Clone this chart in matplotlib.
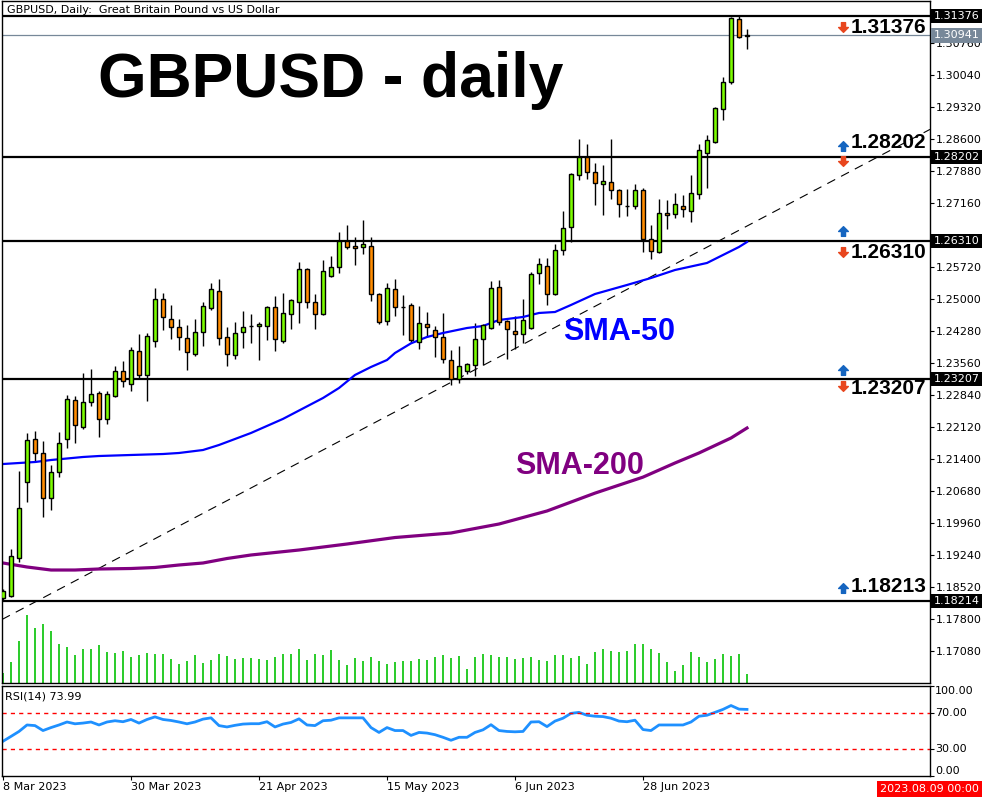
import matplotlib
matplotlib.use("Agg")
import matplotlib.pyplot as plt
from matplotlib.patches import Rectangle
from matplotlib.path import Path

# ---------------- data ----------------
opens = [1.18281, 1.18326, 1.19181, 1.20891, 1.21859, 1.21544, 1.20531, 1.21116, 1.21859, 1.22736,
         1.22129, 1.22691, 1.22894, 1.22309, 1.22826, 1.23389, 1.23096, 1.23839, 1.23299, 1.24061,
         1.25011, 1.24559, 1.24379, 1.24131, 1.23771, 1.24266, 1.24806, 1.25189, 1.24154, 1.23749,
         1.24266, 1.24401, 1.24401, 1.24401, 1.24829, 1.24061, 1.24671, 1.24941, 1.25684, 1.24941,
         1.24671, 1.25526, 1.25729, 1.26311, 1.26201, 1.26179, 1.26201, 1.25121, 1.24514, 1.25234,
         1.24829, 1.24874, 1.24041, 1.24446, 1.24311, 1.24154, 1.23636, 1.23209, 1.23389, 1.23524,
         1.24109, 1.24356, 1.25279, 1.24514, 1.24289, 1.24221, 1.24356, 1.25594, 1.25751, 1.25121,
         1.26111, 1.26629, 1.27799, 1.28201, 1.27866, 1.27596, 1.27641, 1.27461, 1.27101, 1.27101,
         1.27461, 1.26361, 1.26066, 1.26944, 1.26921, 1.27101, 1.26989, 1.27371, 1.28294, 1.28541,
         1.29284, 1.29891, 1.31309, 1.30920]
highs = [1.18484, 1.19384, 1.21139, 1.21994, 1.22039, 1.21814, 1.21274, 1.22016, 1.22849, 1.22826,
         1.23344, 1.23434, 1.22939, 1.22939, 1.23501, 1.23614, 1.23929, 1.24221, 1.24244, 1.25256,
         1.25144, 1.24874, 1.24559, 1.24424, 1.24559, 1.24941, 1.25369, 1.25459, 1.24379, 1.24491,
         1.24739, 1.24671, 1.24491, 1.24851, 1.25076, 1.25144, 1.25009, 1.25841, 1.25706, 1.25121,
         1.25886, 1.25976, 1.26516, 1.26674, 1.26404, 1.26786, 1.26404, 1.25144, 1.25369, 1.25459,
         1.25099, 1.24919, 1.24851, 1.24716, 1.24401, 1.24694, 1.23861, 1.23951, 1.23569, 1.24469,
         1.24446, 1.25414, 1.25436, 1.24536, 1.24626, 1.25009, 1.25616, 1.25931, 1.25931, 1.26246,
         1.26989, 1.27844, 1.28611, 1.28486, 1.28069, 1.28024, 1.28611, 1.27484, 1.27484, 1.27596,
         1.27506, 1.26674, 1.27259, 1.27236, 1.27394, 1.27349, 1.27799, 1.28496, 1.28699, 1.29329,
         1.30004, 1.31350, 1.31376, 1.31084]
lows = [1.18214, 1.18304, 1.19091, 1.20441, 1.21341, 1.20103, 1.20261, 1.21004, 1.21656, 1.21769,
        1.22084, 1.22601, 1.21911, 1.22196, 1.22804, 1.23029, 1.22939, 1.23231, 1.22714, 1.23929,
        1.24311, 1.24109, 1.23861, 1.23411, 1.23726, 1.23951, 1.24761, 1.23974, 1.23501, 1.23659,
        1.23906, 1.24019, 1.23636, 1.24086, 1.23839, 1.24019, 1.24334, 1.24469, 1.24806, 1.24334,
        1.24649, 1.25504, 1.25594, 1.26134, 1.25774, 1.26021, 1.24961, 1.24446, 1.24424, 1.24626,
        1.24199, 1.24019, 1.23884, 1.24154, 1.23704, 1.23569, 1.23074, 1.23119, 1.23321, 1.23276,
        1.23524, 1.24334, 1.24424, 1.23659, 1.23884, 1.24019, 1.24334, 1.25346, 1.24874, 1.25099,
        1.25999, 1.26291, 1.27686, 1.27709, 1.27124, 1.26899, 1.27259, 1.26854, 1.26876, 1.27034,
        1.26066, 1.25909, 1.26044, 1.26584, 1.26831, 1.26854, 1.26741, 1.27259, 1.27506, 1.28519,
        1.29036, 1.29846, 1.30881, 1.30634]
closes = [1.18439, 1.19226, 1.20306, 1.21836, 1.21544, 1.20531, 1.21116, 1.21769, 1.22759, 1.22174,
          1.22691, 1.22871, 1.22309, 1.22871, 1.23389, 1.23161, 1.23861, 1.23299, 1.24176, 1.25011,
          1.24604, 1.24379, 1.24154, 1.23816, 1.24266, 1.24851, 1.25234, 1.24131, 1.23771, 1.24244,
          1.24379, 1.24395, 1.24446, 1.24829, 1.24109, 1.24694, 1.24986, 1.25684, 1.24941, 1.24671,
          1.25639, 1.25729, 1.26311, 1.26179, 1.26156, 1.26246, 1.25121, 1.24491, 1.25256, 1.24829,
          1.24825, 1.24086, 1.24469, 1.24379, 1.24154, 1.23659, 1.23209, 1.23501, 1.23546, 1.24109,
          1.24424, 1.25256, 1.24491, 1.24334, 1.24221, 1.24536, 1.25571, 1.25796, 1.25121, 1.26111,
          1.26606, 1.27821, 1.28201, 1.27866, 1.27619, 1.27664, 1.27461, 1.27146, 1.27098, 1.27461,
          1.26361, 1.26089, 1.26944, 1.26899, 1.27146, 1.27034, 1.27394, 1.28361, 1.28586, 1.29306,
          1.29891, 1.31331, 1.30901, 1.30941]
volumes = [30, 63, 126, 203, 165, 176, 155, 117, 107, 84,
           101, 101, 113, 92, 89, 95, 77, 83, 89, 87,
           86, 71, 56, 65, 83, 59, 68, 87, 80, 71,
           74, 74, 71, 68, 77, 87, 87, 101, 68, 87,
           83, 98, 68, 53, 74, 65, 77, 65, 56, 62,
           65, 65, 71, 68, 77, 83, 74, 80, 41, 77,
           86, 83, 77, 77, 71, 74, 77, 68, 65, 83,
           83, 74, 80, 56, 92, 101, 95, 92, 95, 116,
           116, 101, 89, 62, 35, 53, 92, 77, 62, 71,
           86, 80, 86, 26]
rsi = [38.6, 44.0, 49.5, 56.7, 56.0, 50.5, 53.8, 56.7, 60.0, 58.0,
       58.8, 60.0, 56.7, 60.0, 61.4, 60.3, 62.8, 58.8, 62.8, 65.7,
       62.8, 61.7, 60.0, 58.0, 60.0, 63.2, 64.6, 56.0, 54.5, 56.3,
       57.7, 58.1, 58.1, 60.3, 54.5, 57.7, 59.5, 63.5, 56.7, 56.0,
       61.4, 62.0, 64.6, 64.6, 64.6, 64.6, 53.8, 48.4, 53.8, 50.5,
       50.5, 45.1, 48.4, 47.7, 45.9, 43.0, 39.7, 43.0, 43.0, 48.4,
       51.3, 57.0, 50.5, 49.5, 49.1, 49.5, 60.0, 60.3, 54.9, 61.0,
       64.2, 69.6, 70.7, 67.5, 66.4, 66.0, 64.2, 61.0, 60.3, 62.0,
       51.6, 50.5, 56.7, 56.7, 56.7, 56.7, 60.0, 66.4, 67.5, 70.7,
       74.0, 78.3, 74.3, 73.99]

sma50_idx = [0, 4, 6, 10, 12, 16, 20, 22, 25, 27, 29, 31, 35, 40, 42, 44, 46, 48, 49, 51,
             53, 55, 58, 60, 62, 65, 67, 69, 71, 74, 78, 81, 84, 88, 90, 92, 93]
sma50_val = [1.21296, 1.21341, 1.21386, 1.21454, 1.21476, 1.21499, 1.21521, 1.21544, 1.21611,
             1.21724, 1.21859, 1.21994, 1.22311, 1.22781, 1.23006, 1.23299, 1.23479, 1.23636,
             1.23794, 1.24011, 1.24154, 1.24244, 1.24356, 1.24401, 1.24536, 1.24604, 1.24694,
             1.24716, 1.24874, 1.25121, 1.25324, 1.25481, 1.25661, 1.25819, 1.25999, 1.26179,
             1.26291]
sma200_idx = [0, 3, 6, 9, 12, 16, 19, 22, 25, 28, 31, 37, 43, 49, 56, 62, 68, 74, 80, 84, 87, 91, 93]
sma200_val = [1.19069, 1.18979, 1.18911, 1.18911, 1.18934, 1.18945, 1.18968, 1.19024, 1.19069,
              1.19170, 1.19249, 1.19361, 1.19496, 1.19642, 1.19744, 1.19946, 1.20239, 1.20641,
              1.21001, 1.21319, 1.21544, 1.21881, 1.22106]

levels = [1.31376, 1.28202, 1.26310, 1.23207, 1.18214]
bid_price = 1.30941
trend_pts = [(0, 1.1781), (93, 1.2665)]
price_ticks = [1.17080, 1.17800, 1.18520, 1.19240, 1.19960, 1.20680, 1.21400, 1.22120,
               1.22840, 1.23560, 1.24280, 1.25000, 1.25720, 1.26440, 1.27160, 1.27880,
               1.28600, 1.29320, 1.30040, 1.30760, 1.31480]
hidden_ticks = [1.26440, 1.31480]   # covered by the level boxes in the reference
date_ticks = [0, 16, 32, 48, 64, 80]
date_labels = ["8 Mar 2023", "30 Mar 2023", "21 Apr 2023", "15 May 2023", "6 Jun 2023", "28 Jun 2023"]
level_texts = [("1.31376", 1.31128), ("1.28202", 1.28519), ("1.26310", 1.26044),
               ("1.23207", 1.23006), ("1.18213", 1.18529)]
up_arrows = [1.28461, 1.26539, 1.23411, 1.18506]
down_arrows = [1.31128, 1.28111, 1.26066, 1.23051]

# ---------------- layout ----------------
W, H = 1000, 800
fig = plt.figure(figsize=(10, 8), dpi=100)
fig.patch.set_facecolor("white")


def fx(px):
    return px / W


def fy(py):
    return 1 - py / H


main_rect = [fx(2), fy(683), fx(930) - fx(2), fy(1) - fy(683)]
axv = fig.add_axes(main_rect)
ax = fig.add_axes(main_rect, sharex=axv)
axr = fig.add_axes([fx(2), fy(776), fx(930) - fx(2), fy(686) - fy(776)], sharex=axv)
axv.set_zorder(0.5)
ax.set_zorder(1)
ax.patch.set_visible(False)

n = len(closes)
xs = list(range(n))
ax.set_xlim(-0.125, 115.875)
ax.set_ylim(1.16369, 1.31713)

# volume
axv.set_ylim(0, 2046)
axv.vlines(xs, 0, volumes, color="#2ECC2E", lw=1.3, antialiased=False)
axv.axis("off")

# candles
ax.vlines(xs, lows, highs, color="black", lw=1.0, zorder=2)
bw = 0.45
for i in range(n):
    o, c = opens[i], closes[i]
    col = "#7CFC00" if c >= o else "#FF8C00"
    ax.add_patch(Rectangle((i - bw / 2, min(o, c)), bw, max(abs(c - o), 1e-6),
                           facecolor=col, edgecolor="black", lw=1.0, zorder=3))

# moving averages
ax.plot(sma50_idx, sma50_val, color="#0000FF", lw=1.6, zorder=2.5)
ax.plot(sma200_idx, sma200_val, color="#800080", lw=2.3, zorder=2.5)

# trend line
ax.axline(trend_pts[0], trend_pts[1], color="black", lw=0.8, ls=(0, (8, 6)), zorder=1.5)

# horizontal levels
for lv in levels:
    ax.axhline(lv, color="black", lw=1.6, zorder=1.8)
ax.axhline(bid_price, color="#778899", lw=0.9, zorder=1.7)

# right axis
ax.yaxis.tick_right()
ax.set_yticks(price_ticks)
ax.set_yticklabels(["" if t in hidden_ticks else f"{t:.5f}" for t in price_ticks])
ax.tick_params(axis="y", direction="out", length=3, width=0.8, pad=1, labelsize=8)
ax.tick_params(axis="x", bottom=False, labelbottom=False)
for s in ax.spines.values():
    s.set_linewidth(1.0)

# price boxes on the axis
for lv in levels:
    ax.annotate(f"{lv:.5f}", xy=(1, lv), xycoords=("axes fraction", "data"),
                xytext=(2.6, 0), textcoords="offset points", ha="left", va="center",
                fontsize=8, color="white", annotation_clip=False, zorder=10,
                bbox=dict(boxstyle="square,pad=0.2", fc="black", ec="none"))
ax.annotate(f"{bid_price:.5f}", xy=(1, bid_price), xycoords=("axes fraction", "data"),
            xytext=(2.6, 0), textcoords="offset points", ha="left", va="center",
            fontsize=8, color="white", annotation_clip=False, zorder=10,
            bbox=dict(boxstyle="square,pad=0.2", fc="#778899", ec="none"))

# arrows and level text
up_path = Path([(0, 1), (1, 0), (0.42, 0), (0.42, -1), (-0.42, -1), (-0.42, 0), (-1, 0), (0, 1)],
               [Path.MOVETO] + [Path.LINETO] * 6 + [Path.CLOSEPOLY])
down_path = Path([(0, -1), (1, 0), (0.42, 0), (0.42, 1), (-0.42, 1), (-0.42, 0), (-1, 0), (0, -1)],
                 [Path.MOVETO] + [Path.LINETO] * 6 + [Path.CLOSEPOLY])
ax.plot([105] * len(up_arrows), up_arrows, ls="none", marker=up_path, ms=7,
        color="#1565C0", mec="#1565C0", zorder=5)
ax.plot([105] * len(down_arrows), down_arrows, ls="none", marker=down_path, ms=7,
        color="#E8461E", mec="#E8461E", zorder=5)
for txt, yv in level_texts:
    ax.text(106, yv, txt, ha="left", va="center", fontsize=15, fontweight="bold",
            family="Liberation Sans", color="black", zorder=6)

# big labels
fig.text(fx(98), fy(97), "GBPUSD - daily", fontsize=45, fontweight="bold",
         family="Liberation Sans", va="baseline", ha="left", color="black")
fig.text(fx(563), fy(340), "SMA-50", fontsize=22, fontweight="bold",
         family="Liberation Sans", va="baseline", ha="left", color="#0000FF")
fig.text(fx(515), fy(474), "SMA-200", fontsize=22, fontweight="bold",
         family="Liberation Sans", va="baseline", ha="left", color="#800080")
fig.text(fx(7), fy(10), "GBPUSD, Daily:  Great Britain Pound vs US Dollar",
         fontsize=8, va="center", ha="left", color="black", zorder=10)

# RSI panel
axr.set_ylim(0, 100)
axr.plot(xs, rsi, color="#1E90FF", lw=2.0)
axr.axhline(70, color="#FF0000", lw=1.0, ls=(0, (3, 3)))
axr.axhline(30, color="#FF0000", lw=1.0, ls=(0, (3, 3)))
axr.yaxis.tick_right()
axr.set_yticks([0, 30, 70, 100])
axr.set_yticklabels(["", "", "", ""])
axr.tick_params(axis="y", direction="out", length=3, width=0.8)
for val, va in [(100, "top"), (70, "center"), (30, "center"), (0, "bottom")]:
    axr.annotate(f"{val:.2f}", xy=(1, val), xycoords=("axes fraction", "data"),
                 xytext=(3.5, 0), textcoords="offset points", ha="left", va=va,
                 fontsize=8, annotation_clip=False)
axr.set_xticks(date_ticks, date_labels, ha="left", fontsize=8)
axr.tick_params(axis="x", direction="out", length=3, width=0.8, pad=1.5)
axr.text(3 / 928, 0.878, "RSI(14) 73.99", transform=axr.transAxes, fontsize=8,
         va="center", ha="left")
for s in axr.spines.values():
    s.set_linewidth(1.0)

fig.text(fx(880), fy(789), "2023.08.09 00:00", fontsize=8, color="white",
         va="center", ha="left",
         bbox=dict(boxstyle="square,pad=0.25", fc="#FF0000", ec="none"))

fig.savefig("out.png", dpi=100, facecolor="white")
